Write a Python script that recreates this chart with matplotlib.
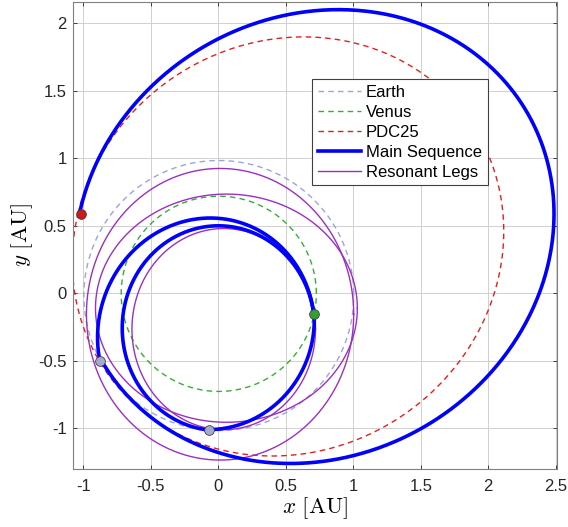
import numpy as np
import matplotlib
matplotlib.use("Agg")
import matplotlib.pyplot as plt

# ---- values (AU) ----
# planets: semi-major axis, eccentricity, longitude of perihelion [deg]
earth_el = (1.000, 0.0167, 102.9)
venus_el = (0.723, 0.0068, 131.5)

# points on each Sun-focused conic, used to fit 1/r = A + B cos(t) + C sin(t)
pdc_x = [-1.02, 0.665, 2.0, 2.113, 1.765, 0.476, -0.905]
pdc_y = [0.59, 1.908, 1.0, 0.0, -0.50, -1.181, -0.50]

# main sequence legs (start point, points along the leg, end point)
legA_x = [-0.069, 0.358, 0.531, 0.692, 0.707]
legA_y = [-1.013, -0.864, -0.716, -0.395, -0.151]
legB_x = [0.707, -0.01, -0.71, -0.069]
legB_y = [-0.151, 0.50, -0.20, -1.013]
legD_x = [0.707, -0.01, -0.89, -0.876]
legD_y = [-0.151, 0.556, -0.22, -0.50]
legE_x = [-0.876, 0.531, 2.515, 0.931, -0.516, -1.02]
legE_y = [-0.50, -1.247, 0.55, 2.111, 1.506, 0.59]

# resonant legs: centre x, centre y, half width, half height
res_cx = [0.013, 0.06, 0.04]
res_cy = [-0.155, -0.11, -0.265]
res_rx = [0.99, 0.97, 0.68]
res_ry = [1.08, 0.845, 0.745]

# encounter markers
dep_x, dep_y = -1.02, 0.59           # PDC25 arrival
earth_fb_x = [-0.876, -0.069]
earth_fb_y = [-0.50, -1.013]
venus_fb_x, venus_fb_y = 0.707, -0.151


def kepler(a, e, w, n=721):
    t = np.linspace(0, 2*np.pi, n)
    r = a*(1 - e**2)/(1 + e*np.cos(t - np.radians(w)))
    return r*np.cos(t), r*np.sin(t)


def fit(xs, ys):
    xs, ys = np.asarray(xs), np.asarray(ys)
    th = np.arctan2(ys, xs)
    M = np.column_stack([np.ones_like(th), np.cos(th), np.sin(th)])
    return np.linalg.lstsq(M, 1/np.hypot(xs, ys), rcond=None)[0]


def arc(xs, ys, full=False, n=600):
    c = fit(xs, ys)
    t0 = np.arctan2(ys[0], xs[0])
    t1 = np.arctan2(ys[-1], xs[-1])
    while t1 <= t0:
        t1 += 2*np.pi
    if full:
        t1 = t0 + 2*np.pi
    t = np.linspace(t0, t1, n)
    r = 1/(c[0] + c[1]*np.cos(t) + c[2]*np.sin(t))
    return r*np.cos(t), r*np.sin(t)


plt.rcParams['font.family'] = ['Liberation Sans', 'DejaVu Sans']
plt.rcParams['mathtext.fontset'] = 'cm'
plt.rcParams['axes.unicode_minus'] = False

fig = plt.figure(figsize=(5.68, 5.27), dpi=100)
ax = fig.add_axes([0.1294, 0.1101, 0.8512, 0.8867])

ex, ey = kepler(*earth_el)
ax.plot(ex, ey, '--', color='#9fa3dd', lw=1.0, dashes=(4, 3), label='Earth')
vx, vy = kepler(*venus_el)
ax.plot(vx, vy, '--', color='#33b033', lw=1.0, dashes=(4, 3), label='Venus')
px, py = arc(pdc_x, pdc_y, full=True)
ax.plot(px, py, '--', color='#e02020', lw=1.0, dashes=(4, 3), label='PDC25')

for i, (lx, ly) in enumerate([(legA_x, legA_y), (legB_x, legB_y),
                              (legD_x, legD_y), (legE_x, legE_y)]):
    sx, sy = arc(lx, ly)
    ax.plot(sx, sy, color='#0000ff', lw=2.6,
            label='Main Sequence' if i == 0 else None, zorder=4)

t = np.linspace(0, 2*np.pi, 721)
for i in range(len(res_cx)):
    ax.plot(res_cx[i] + res_rx[i]*np.cos(t), res_cy[i] + res_ry[i]*np.sin(t),
            color='#9b30c0', lw=1.0,
            label='Resonant Legs' if i == 0 else None, zorder=3)

mk = dict(ms=7, mec='#404040', mew=0.6, zorder=6, ls='none')
ax.plot(dep_x, dep_y, 'o', mfc='#d01818', **mk)
ax.plot(earth_fb_x, earth_fb_y, 'o', mfc='#a8aacc', **mk)
ax.plot(venus_fb_x, venus_fb_y, 'o', mfc='#30a030', **mk)

ax.set_xlim(-1.073, 2.509)
ax.set_ylim(-1.301, 2.160)
ax.set_xticks(np.arange(-1, 2.51, 0.5))
ax.set_yticks(np.arange(-1, 2.01, 0.5))
ax.set_xticklabels(['-1', '-0.5', '0', '0.5', '1', '1.5', '2', '2.5'])
ax.set_yticklabels(['-1', '-0.5', '0', '0.5', '1', '1.5', '2'])
ax.tick_params(direction='in', length=3, width=0.6, labelsize=12,
               top=True, right=True, colors='#262626')
ax.tick_params(axis='x', pad=7)
ax.tick_params(axis='y', pad=5)
ax.grid(True, color='#d0d0d0', lw=0.7)
ax.set_axisbelow(True)
for s in ax.spines.values():
    s.set_color('#808080')
    s.set_linewidth(0.8)

ax.set_xlabel(r'$x\ [\mathrm{AU}]$', fontsize=16.5, labelpad=1)
ax.set_ylabel(r'$y\ [\mathrm{AU}]$', fontsize=16.5, labelpad=2)

leg = ax.legend(loc='upper right', bbox_to_anchor=(0.857, 0.835),
                fontsize=12, fancybox=False, framealpha=1,
                edgecolor='#404040', handlelength=2.6, labelspacing=0.3,
                borderpad=0.35, handletextpad=0.3, borderaxespad=0)
leg.get_frame().set_linewidth(0.8)

fig.savefig('out.png', dpi=100)
